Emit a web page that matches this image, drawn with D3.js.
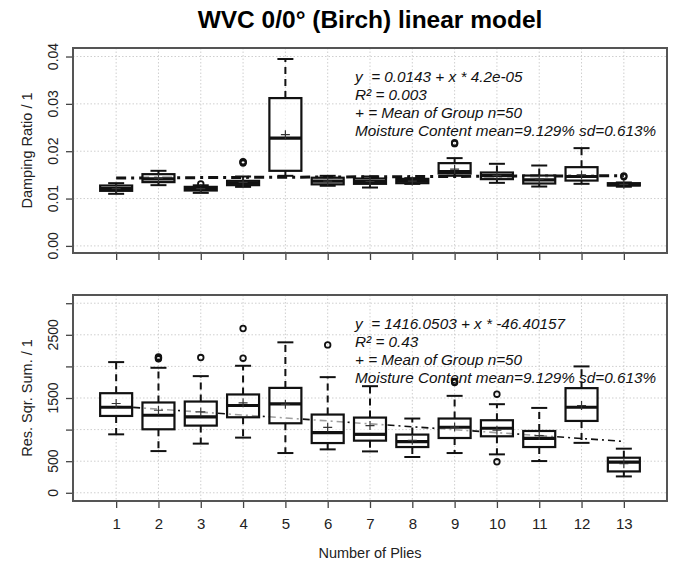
<!DOCTYPE html>
<html>
<head>
<meta charset="utf-8">
<script src="https://cdn.jsdelivr.net/npm/d3@7"></script>
<style>
  html, body { margin: 0; padding: 0; background: #fff; }
  svg { display: block; font-family: "Liberation Sans", Arial, Helvetica, sans-serif; }
  .note { white-space: pre; }
</style>
</head>
<body>
<svg id="chart" width="676" height="567"></svg>
<script>
// Number of plies (groups)
const plies = [1, 2, 3, 4, 5, 6, 7, 8, 9, 10, 11, 12, 13];

// Damping ratio box statistics per group
const dampLow    = [0.0110, 0.01283, 0.0112, 0.01247, 0.0148, 0.0127, 0.01233, 0.0131, 0.0148, 0.01332, 0.01254, 0.01311, 0.0125];
const dampQ1     = [0.01163, 0.01347, 0.0117, 0.01283, 0.01586, 0.0130, 0.01311, 0.01325, 0.01529, 0.0141, 0.01318, 0.0138, 0.01275];
const dampMedian = [0.0121, 0.01416, 0.01212, 0.01325, 0.02277, 0.0137, 0.0136, 0.01374, 0.01571, 0.01486, 0.01395, 0.01466, 0.01296];
const dampQ3     = [0.01275, 0.01515, 0.01247, 0.01374, 0.03122, 0.0144, 0.01423, 0.01416, 0.01748, 0.0155, 0.01486, 0.01663, 0.01325];
const dampHigh   = [0.01325, 0.01586, 0.0128, 0.01466, 0.03947, 0.0148, 0.01466, 0.0143, 0.01854, 0.01734, 0.01698, 0.02065, 0.0134];
const dampMean   = [0.0121, 0.0143, 0.0121, 0.0134, 0.0235, 0.0137, 0.0136, 0.0137, 0.0162, 0.0149, 0.0141, 0.0150, 0.0130];
const dampOutliers = [[], [], [0.0131], [0.0175, 0.0177, 0.0178], [], [], [], [], [0.0216, 0.0218], [], [], [], [0.0146, 0.0148]];
const dampTicks  = [0, 0.01, 0.02, 0.03, 0.04];
const dampLabels = ["0.00", "0.01", "0.02", "0.03", "0.04"];
const dampFit    = [0.0143, 4.2e-05];
const dampNotes  = ["y  = 0.0143 + x * 4.2e-05", "R\u00b2 = 0.003", "+ = Mean of Group n=50", "Moisture Content mean=9.129% sd=0.613%"];

// Residual square sum box statistics per group
const rssLow    = [925, 660, 778, 873, 629, 687, 655, 566, 629, 608, 502, 790, 259];
const rssQ1     = [1216, 1005, 1063, 1195, 1100, 787, 825, 724, 867, 894, 724, 1137, 338];
const rssMedian = [1354, 1227, 1200, 1381, 1406, 952, 925, 810, 1037, 1021, 862, 1354, 486];
const rssQ3     = [1576, 1429, 1444, 1556, 1660, 1238, 1190, 921, 1175, 1148, 978, 1656, 555];
const rssHigh   = [2068, 1978, 1846, 2010, 2381, 1830, 1687, 1175, 1534, 1402, 1343, 2000, 698];
const rssMean   = [1413, 1306, 1280, 1423, 1400, 1036, 1063, 830, 1040, 990, 905, 1380, 460];
const rssOutliers = [[], [2120, 2135, 2150], [2140], [2130, 2600], [], [2340], [], [], [1745, 1760], [1560, 490], [], [], []];
const rssTicks  = [0, 500, 1000, 1500, 2000, 2500, 3000];
const rssLabels = ["0", "500", "", "1500", "", "2500", ""];
const rssFit    = [1416.0503, -46.40157];
const rssNotes  = ["y  = 1416.0503 + x * -46.40157", "R\u00b2 = 0.43", "+ = Mean of Group n=50", "Moisture Content mean=9.129% sd=0.613%"];

const svg = d3.select("#chart");
const frameL = 73, frameR = 667;
const x = d3.scaleLinear().domain([-0.02, 14.02]).range([frameL, frameR]);
const boxW = 32;

// Title
svg.append("text")
  .attr("x", 370).attr("y", 28)
  .attr("text-anchor", "middle")
  .style("font-size", "24.5px").style("font-weight", "bold")
  .text("WVC 0/0\u00b0 (Birch) linear model");

function panel(cfg) {
  const y = d3.scaleLinear().domain(cfg.domain).range([cfg.bottom, cfg.top]);
  const g = svg.append("g");

  // grid
  g.selectAll(".hg").data(cfg.ticks).join("line")
    .attr("x1", frameL).attr("x2", frameR)
    .attr("y1", d => y(d)).attr("y2", d => y(d))
    .attr("stroke", "#cfcfcf").attr("stroke-width", 1).attr("stroke-dasharray", "1.5,2");
  g.selectAll(".vg").data(plies).join("line")
    .attr("x1", d => x(d)).attr("x2", d => x(d))
    .attr("y1", cfg.top).attr("y2", cfg.bottom)
    .attr("stroke", "#cfcfcf").attr("stroke-width", 1).attr("stroke-dasharray", "1.5,2");

  // left axis
  const ya = g.append("g").attr("transform", `translate(${frameL},0)`)
    .call(d3.axisLeft(y).tickValues(cfg.ticks).tickSize(7).tickSizeOuter(0).tickFormat(""));
  ya.select(".domain").remove();
  ya.selectAll("line").attr("stroke", "#444").attr("stroke-width", 1.3);
  g.selectAll(".ylab").data(cfg.ticks).join("text")
    .attr("transform", d => `translate(58,${y(d)}) rotate(-90)`)
    .attr("text-anchor", "middle")
    .style("font-size", "14px").attr("fill", "#222")
    .text((d, i) => cfg.labels[i]);
  g.append("text")
    .attr("transform", `translate(32,${(cfg.top + cfg.bottom) / 2}) rotate(-90)`)
    .attr("text-anchor", "middle")
    .style("font-size", "14.5px").attr("fill", "#222")
    .text(cfg.ylabel);

  // bottom axis
  const xa = g.append("g").attr("transform", `translate(0,${cfg.bottom})`)
    .call(d3.axisBottom(x).tickValues(plies).tickSize(7).tickSizeOuter(0).tickPadding(10)
      .tickFormat(cfg.xLabels ? d3.format("d") : ""));
  xa.select(".domain").remove();
  xa.selectAll("line").attr("stroke", "#444").attr("stroke-width", 1.3);
  xa.selectAll("text").style("font-size", "15px").style("font-family", "'Liberation Sans', Arial, sans-serif").attr("fill", "#222");

  // regression line
  const fit = d => cfg.fit[0] + cfg.fit[1] * d;
  g.append("line")
    .attr("x1", x(1)).attr("x2", x(13))
    .attr("y1", y(fit(1))).attr("y2", y(fit(13)))
    .attr("stroke", "#111").attr("stroke-width", cfg.fitWidth)
    .attr("stroke-dasharray", cfg.fitDash);

  // boxes
  const rows = plies.map((p, i) => ({
    p, lo: cfg.low[i], q1: cfg.q1[i], med: cfg.med[i], q3: cfg.q3[i], hi: cfg.high[i],
    mean: cfg.mean[i], out: cfg.out[i]
  }));
  const bx = g.selectAll(".box").data(rows).join("g");
  // whiskers
  bx.append("line")
    .attr("x1", d => x(d.p)).attr("x2", d => x(d.p))
    .attr("y1", d => y(d.q3)).attr("y2", d => y(d.hi))
    .attr("stroke", "#111").attr("stroke-width", 2).attr("stroke-dasharray", "7,5");
  bx.append("line")
    .attr("x1", d => x(d.p)).attr("x2", d => x(d.p))
    .attr("y1", d => y(d.q1)).attr("y2", d => y(d.lo))
    .attr("stroke", "#111").attr("stroke-width", 2).attr("stroke-dasharray", "7,5");
  // staples
  ["lo", "hi"].forEach(k => {
    bx.append("line")
      .attr("x1", d => x(d.p) - boxW / 4).attr("x2", d => x(d.p) + boxW / 4)
      .attr("y1", d => y(d[k])).attr("y2", d => y(d[k]))
      .attr("stroke", "#111").attr("stroke-width", 2);
  });
  // box
  bx.append("rect")
    .attr("x", d => x(d.p) - boxW / 2).attr("width", boxW)
    .attr("y", d => y(d.q3)).attr("height", d => y(d.q1) - y(d.q3))
    .attr("fill", "#fff").attr("fill-opacity", 0.6)
    .attr("stroke", "#111").attr("stroke-width", 2.2);
  // median
  bx.append("line")
    .attr("x1", d => x(d.p) - boxW / 2).attr("x2", d => x(d.p) + boxW / 2)
    .attr("y1", d => y(d.med)).attr("y2", d => y(d.med))
    .attr("stroke", "#111").attr("stroke-width", 3.2);
  // mean marker
  bx.append("path")
    .attr("d", d => `M${x(d.p) - 4.5},${y(d.mean)}h9M${x(d.p)},${y(d.mean) - 4.5}v9`)
    .attr("stroke", "#333").attr("stroke-width", 1.2).attr("fill", "none");
  // outliers
  bx.each(function (d) {
    d3.select(this).selectAll("circle").data(d.out).join("circle")
      .attr("cx", x(d.p)).attr("cy", v => y(v)).attr("r", 2.8)
      .attr("fill", "none").attr("stroke", "#111").attr("stroke-width", 1.8);
  });

  // frame
  g.append("rect")
    .attr("x", frameL).attr("y", cfg.top)
    .attr("width", frameR - frameL).attr("height", cfg.bottom - cfg.top)
    .attr("fill", "none").attr("stroke", "#555").attr("stroke-width", 2);

  // model annotation
  g.selectAll(".note").data(cfg.notes).join("text")
    .attr("class", "note")
    .attr("x", 355).attr("y", (d, i) => cfg.noteY + i * 18)
    .style("font-size", "15.3px").style("font-style", "italic").attr("fill", "#111")
    .text(d => d);
}

panel({
  top: 48, bottom: 253, domain: [-0.0015, 0.0418],
  ticks: dampTicks, labels: dampLabels, ylabel: "Damping Ratio / 1",
  low: dampLow, q1: dampQ1, med: dampMedian, q3: dampQ3, high: dampHigh,
  mean: dampMean, out: dampOutliers, fit: dampFit, notes: dampNotes,
  noteY: 82, fitWidth: 3, fitDash: "10,5,3,5", xLabels: false
});

panel({
  top: 295, bottom: 501, domain: [-130, 3130],
  ticks: rssTicks, labels: rssLabels, ylabel: "Res. Sqr. Sum. / 1",
  low: rssLow, q1: rssQ1, med: rssMedian, q3: rssQ3, high: rssHigh,
  mean: rssMean, out: rssOutliers, fit: rssFit, notes: rssNotes,
  noteY: 329, fitWidth: 1.6, fitDash: "7,4,2,4", xLabels: true
});

// x-axis title
svg.append("text")
  .attr("x", 370).attr("y", 558)
  .attr("text-anchor", "middle")
  .style("font-size", "14.5px").attr("fill", "#222")
  .text("Number of Plies");
</script>
</body>
</html>
